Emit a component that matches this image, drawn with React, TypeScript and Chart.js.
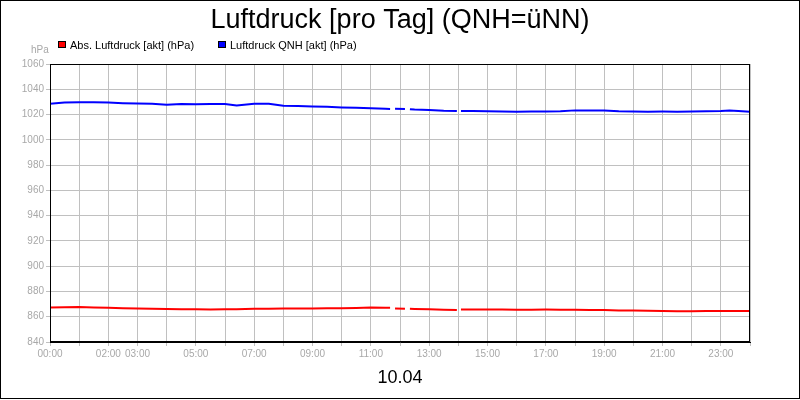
import React from "react";
import Chart, { ChartItem, Plugin } from "chart.js/auto";

// hours of the day (measurements); null marks a gap in the record
const hours = [
  0, 0.5, 1, 1.5, 2, 2.5, 3, 3.5, 4, 4.5, 5, 5.5, 6, 6.4, 7, 7.5, 8, 8.5, 9,
  9.5, 10, 10.5, 11, 11.5, 11.66, 11.75, 11.83, 12.17, 12.25, 12.34, 12.5, 13,
  13.5, 13.95, 14.02, 14.09, 14.5, 15, 15.5, 16, 16.5, 17, 17.5, 18, 18.5, 19,
  19.5, 20, 20.5, 21, 21.5, 22, 22.5, 23, 23.3, 23.6, 24,
];
const absPressure = [
  867.3, 867.5, 867.6, 867.4, 867.1, 866.8, 866.5, 866.3, 866.1, 866.0, 865.9,
  865.8, 865.9, 866.0, 866.3, 866.4, 866.5, 866.6, 866.6, 866.7, 866.8, 867.0,
  867.3, 867.2, 867.1, null, 866.6, 866.4, null, 866.3, 866.2, 865.9, 865.6,
  865.4, null, 865.7, 865.7, 865.8, 865.7, 865.6, 865.6, 865.7, 865.6, 865.5,
  865.4, 865.3, 865.0, 864.9, 864.8, 864.6, 864.3, 864.4, 864.5, 864.6, 864.6,
  864.6, 864.6,
];
const qnhPressure = [
  1028.6, 1029.6, 1029.8, 1029.7, 1029.5, 1029.0, 1028.7, 1028.6, 1027.8,
  1028.3, 1028.2, 1028.4, 1028.3, 1027.1, 1028.5, 1028.6, 1026.9, 1026.8,
  1026.4, 1026.1, 1025.6, 1025.3, 1024.9, 1024.5, 1024.4, null, 1024.5, 1024.4,
  null, 1024.2, 1023.9, 1023.5, 1023.0, 1022.8, null, 1022.9, 1022.8, 1022.6,
  1022.4, 1022.3, 1022.4, 1022.4, 1022.6, 1023.3, 1023.3, 1023.2, 1022.7,
  1022.5, 1022.3, 1022.4, 1022.3, 1022.5, 1022.6, 1022.8, 1023.2, 1022.9,
  1022.3,
];
const labelledHours = [0, 2, 3, 5, 7, 9, 11, 13, 15, 17, 19, 21, 23];
const seriesNames = ["Abs. Luftdruck [akt] (hPa)", "Luftdruck QNH [akt] (hPa)"];
const seriesColors = ["#ff0000", "#0000ff"];

const FONT = "'Liberation Sans', Arial, sans-serif";
const GRAY = "#a8a8a8";
const GRID = "#c0c0c0";

const decorations: Plugin = {
  id: "decorations",
  afterDraw(chart) {
    const { ctx, chartArea } = chart;
    ctx.save();
    // plot frame
    ctx.strokeStyle = "#000";
    ctx.lineWidth = 1;
    ctx.strokeRect(
      chartArea.left + 0.5,
      chartArea.top + 0.5,
      chartArea.right - chartArea.left - 1,
      chartArea.bottom - chartArea.top - 1
    );
    // outer frame
    ctx.strokeRect(0.5, 0.5, 799, 398);

    // title
    ctx.fillStyle = "#000";
    ctx.textAlign = "center";
    ctx.textBaseline = "alphabetic";
    ctx.font = `27px ${FONT}`;
    ctx.fillText("Luftdruck [pro Tag] (QNH=üNN)", 400, 28);

    // date
    ctx.font = `18px ${FONT}`;
    ctx.fillText("10.04", 400, 383);

    // unit
    ctx.textAlign = "left";
    ctx.font = `10px ${FONT}`;
    ctx.fillStyle = GRAY;
    ctx.fillText("hPa", 31, 52.5);

    // legend
    const legendX = [58, 218];
    chart.data.datasets.forEach((ds, i) => {
      const x = legendX[i];
      ctx.fillStyle = ds.borderColor as string;
      ctx.fillRect(x, 41, 8, 7);
      ctx.strokeStyle = "#000";
      ctx.strokeRect(x + 0.5, 41.5, 7, 6);
      ctx.fillStyle = "#000";
      ctx.font = `11px ${FONT}`;
      ctx.fillText(ds.label as string, x + 12, 48.5);
    });
    ctx.restore();
  },
};

const App: React.FC = () => {
  const canvasRef = React.useRef<HTMLCanvasElement>(null);

  React.useEffect(() => {
    document.body.style.margin = "0";
    const toPoints = (values: (number | null)[]) =>
      hours.map((h, i) => ({ x: h, y: values[i] }));

    const chart = new Chart(canvasRef.current as ChartItem, {
      type: "line",
      data: {
        datasets: [
          {
            label: seriesNames[0],
            data: toPoints(absPressure) as any,
            borderColor: seriesColors[0],
            backgroundColor: seriesColors[0],
            borderWidth: 2,
            pointRadius: 0,
            spanGaps: false,
            tension: 0,
          },
          {
            label: seriesNames[1],
            data: toPoints(qnhPressure) as any,
            borderColor: seriesColors[1],
            backgroundColor: seriesColors[1],
            borderWidth: 2,
            pointRadius: 0,
            spanGaps: false,
            tension: 0,
          },
        ],
      },
      options: {
        animation: false,
        responsive: false,
        devicePixelRatio: 1,
        layout: { padding: { top: 64, right: 50, bottom: 0, left: 0 } },
        plugins: {
          legend: { display: false },
          title: { display: false },
          tooltip: { enabled: false },
        },
        scales: {
          x: {
            type: "linear",
            min: 0,
            max: 24,
            afterFit: (s) => {
              s.height = 58;
            },
            ticks: {
              stepSize: 1,
              autoSkip: false,
              maxRotation: 0,
              color: GRAY,
              padding: 2,
              font: { size: 10, family: FONT },
              callback: (v) =>
                labelledHours.includes(Number(v))
                  ? String(v).padStart(2, "0") + ":00"
                  : "",
            },
            grid: { color: GRID, tickLength: 4 },
            border: { color: "#000" },
          },
          y: {
            min: 840,
            max: 1060,
            afterFit: (s) => {
              s.width = 50;
            },
            ticks: {
              stepSize: 20,
              color: GRAY,
              padding: 2,
              font: { size: 10, family: FONT },
              callback: (v) => String(v),
            },
            grid: { color: GRID, tickLength: 4 },
            border: { color: "#000" },
          },
        },
      },
      plugins: [decorations],
    });

    return () => {
      chart.destroy();
    };
  }, []);

  return (
    <div style={{ width: 800, height: 400 }}>
      <canvas ref={canvasRef} width={800} height={400}></canvas>
    </div>
  );
};

export default App;
